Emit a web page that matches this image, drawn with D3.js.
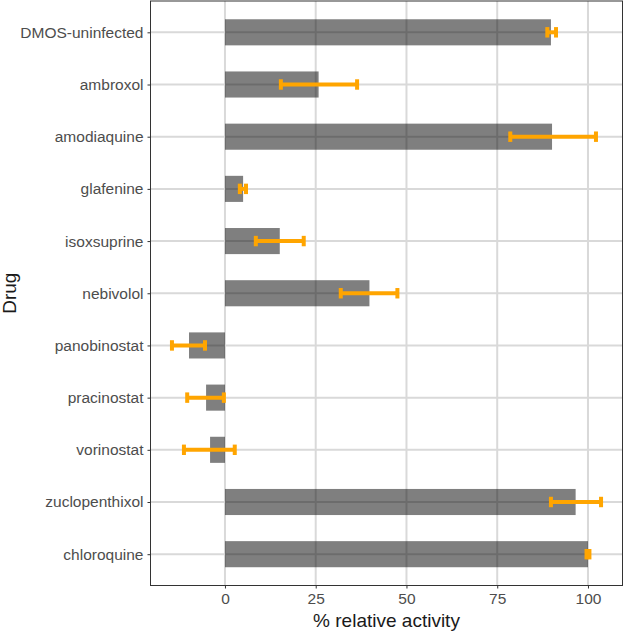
<!DOCTYPE html>
<html>
<head>
<meta charset="utf-8">
<script src="https://cdn.jsdelivr.net/npm/d3@7"></script>
<style>
  body { margin: 0; background: #fff; }
  svg text { font-family: "Liberation Sans", Arial, sans-serif; }
</style>
</head>
<body>
<main></main>
<script>
const drugs = ["DMOS-uninfected", "ambroxol", "amodiaquine", "glafenine", "isoxsuprine",
               "nebivolol", "panobinostat", "pracinostat", "vorinostat", "zuclopenthixol", "chloroquine"];
const activity = [89.8, 25.8, 90.1, 5.0, 15.1, 39.8, -9.9, -5.2, -4.1, 96.6, 100.0];
const errLow = [88.8, 15.4, 78.6, 4.1, 8.5, 31.9, -14.6, -10.4, -11.3, 89.8, 99.6];
const errHigh = [91.2, 36.4, 102.2, 5.8, 21.7, 47.5, -5.5, -0.3, 2.7, 103.6, 100.4];
const xTicks = [0, 25, 50, 75, 100];

const width = 625;
const height = 631;
const margin = {top: 1, right: 2.5, bottom: 45.5, left: 150.5};

const svg = d3.select("main")
              .append("svg")
              .attr("width", width)
              .attr("height", height);

const lo = d3.min(errLow.concat([0]));
const hi = d3.max(errHigh.concat([0]));
const pad = (hi - lo) * 0.05;

const xScale = d3.scaleLinear()
                 .domain([lo - pad, hi + pad])
                 .range([margin.left, width - margin.right]);

// discrete axis with ggplot-style 0.6 expansion
const yPos = d3.scalePoint()
               .domain(drugs)
               .range([margin.top, height - margin.bottom])
               .padding(0.6);
const step = yPos.step();

const panelTop = margin.top;
const panelBottom = height - margin.bottom;

// major grid
svg.append("g")
   .selectAll("line")
   .data(xTicks)
   .join("line")
   .attr("x1", d => xScale(d)).attr("x2", d => xScale(d))
   .attr("y1", panelTop).attr("y2", panelBottom)
   .attr("stroke", "#d9d9d9")
   .attr("stroke-width", 2);

svg.append("g")
   .selectAll("line")
   .data(drugs)
   .join("line")
   .attr("x1", margin.left).attr("x2", width - margin.right)
   .attr("y1", d => yPos(d)).attr("y2", d => yPos(d))
   .attr("stroke", "#d9d9d9")
   .attr("stroke-width", 2);

// bars
svg.append("g")
   .selectAll("rect")
   .data(activity)
   .join("rect")
   .attr("x", d => xScale(Math.min(0, d)))
   .attr("y", (d, i) => yPos(drugs[i]) - step * 0.25)
   .attr("width", d => Math.abs(xScale(d) - xScale(0)))
   .attr("height", step * 0.5)
   .attr("fill", "#000")
   .attr("fill-opacity", 0.5);

// error bars
const eb = svg.append("g")
              .attr("stroke", "#FFA500")
              .attr("stroke-width", 4);
drugs.forEach((d, i) => {
    const y = yPos(d);
    const half = step * 0.1;
    eb.append("line")
      .attr("x1", xScale(errLow[i])).attr("x2", xScale(errHigh[i]))
      .attr("y1", y).attr("y2", y);
    [errLow[i], errHigh[i]].forEach(v => {
        eb.append("line")
          .attr("x1", xScale(v)).attr("x2", xScale(v))
          .attr("y1", y - half).attr("y2", y + half);
    });
});

// panel border
svg.append("rect")
   .attr("x", margin.left)
   .attr("y", panelTop)
   .attr("width", width - margin.right - margin.left)
   .attr("height", panelBottom - panelTop)
   .attr("fill", "none")
   .attr("stroke", "#333")
   .attr("stroke-width", 1);

// axes
const xAxis = svg.append("g")
   .attr("transform", `translate(0, ${panelBottom})`)
   .call(d3.axisBottom(xScale).tickValues(xTicks).tickSize(3).tickSizeOuter(0).tickPadding(4));
const yAxis = svg.append("g")
   .attr("transform", `translate(${margin.left}, 0)`)
   .call(d3.axisLeft(yPos).tickSize(3).tickSizeOuter(0).tickPadding(4));

[xAxis, yAxis].forEach(a => {
    a.select(".domain").remove();
    a.selectAll(".tick line").attr("stroke", "#333").attr("stroke-width", 1);
    a.selectAll(".tick text").attr("fill", "#4d4d4d").style("font-size", "15.5px");
});

svg.append("text")
   .attr("x", (margin.left + width - margin.right) / 2)
   .attr("y", 627)
   .attr("text-anchor", "middle")
   .style("font-size", "19px")
   .attr("fill", "#1a1a1a")
   .text("% relative activity");

svg.append("text")
   .attr("transform", `translate(16, ${(panelTop + panelBottom) / 2}) rotate(-90)`)
   .attr("text-anchor", "middle")
   .style("font-size", "19px")
   .attr("fill", "#1a1a1a")
   .text("Drug");
</script>
</body>
</html>
